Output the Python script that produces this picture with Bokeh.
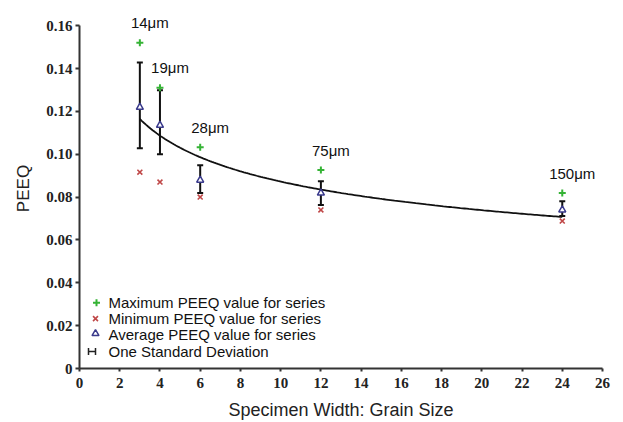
import numpy as np
from bokeh.plotting import figure
from bokeh.models import (Range1d, FixedTicker, Whisker, TeeHead, ColumnDataSource)
from bokeh.core.properties import value
from bokeh.embed import file_html
from bokeh.resources import INLINE

# ---- data ----
widths = [3, 4, 6, 12, 24]                      # specimen width in grains
grain_labels = ["14μm", "19μm", "28μm", "75μm", "150μm"]
peeq_max = [0.152, 0.131, 0.1033, 0.0926, 0.0819]
peeq_min = [0.0916, 0.087, 0.080, 0.074, 0.0688]
peeq_avg = [0.1219, 0.1135, 0.0879, 0.0819, 0.0740]
sd_upper = [0.1428, 0.1298, 0.0949, 0.0874, 0.0781]
sd_lower = [0.1028, 0.1000, 0.0819, 0.0763, 0.0712]

x_ticks = list(range(0, 27, 2))
y_ticks = [0, 0.02, 0.04, 0.06, 0.08, 0.10, 0.12, 0.14, 0.16]
y_tick_labels = ["0", "0.02", "0.04", "0.06", "0.08", "0.10", "0.12", "0.14", "0.16"]

legend_labels = ["Maximum PEEQ value for series",
                 "Minimum PEEQ value for series",
                 "Average PEEQ value for series",
                 "One Standard Deviation"]

# ---- styling ----
GREEN = "#35b335"
RED = "#c04848"
NAVY = "#3a3a8c"
SANS = "Liberation Sans"
SERIF = "Liberation Serif"

FW, FH = 523, 361   # frame size in px

p = figure(width=623, height=422, output_backend="svg", toolbar_location=None,
           x_range=Range1d(0, 26), y_range=Range1d(0, 0.168),
           min_border_left=79, min_border_right=21, min_border_top=8,
           min_border_bottom=53)
p.extra_x_ranges = {"px": Range1d(0, FW)}
p.extra_y_ranges = {"px": Range1d(0, FH)}
p.outline_line_color = None
p.xgrid.visible = False
p.ygrid.visible = False
p.background_fill_color = "white"
p.border_fill_color = "white"

# axes
for ax in (p.xaxis[0], p.yaxis[0]):
    ax.axis_line_width = 2
    ax.axis_line_color = "#333333"
    ax.major_tick_line_color = "#333333"
    ax.major_tick_line_width = 2
    ax.minor_tick_line_color = None
    ax.major_label_text_font = SERIF
    ax.major_label_text_font_style = "bold"
    ax.major_label_text_font_size = "15px"
    ax.major_label_text_color = "#222222"
    ax.axis_label_text_font = SANS
    ax.axis_label_text_font_style = "normal"
    ax.axis_label_text_color = "#222222"

xa = p.xaxis[0]
xa.ticker = FixedTicker(ticks=x_ticks)
xa.bounds = (0, 26)
xa.major_tick_in = 0
xa.major_tick_out = 3
xa.major_label_standoff = 6
xa.axis_label = "Specimen Width: Grain Size"
xa.axis_label_text_font_size = "18px"
xa.axis_label_standoff = 9

ya = p.yaxis[0]
ya.ticker = FixedTicker(ticks=y_ticks)
ya.major_label_overrides = {t: l for t, l in zip(y_ticks, y_tick_labels)}
ya.bounds = (0, 0.16)
ya.major_tick_in = 0
ya.major_tick_out = 4
ya.major_label_standoff = 3
ya.axis_label = "PEEQ"
ya.axis_label_text_font_size = "17px"
ya.axis_label_standoff = 10

# trend line: power-law fit to the averages
b, ln_a = np.polyfit(np.log(widths), np.log(peeq_avg), 1)
xs = np.linspace(min(widths), max(widths), 200)
p.line(xs, np.exp(ln_a) * xs ** b, line_color="#111111", line_width=1.8)

src = ColumnDataSource(dict(x=widths, mx=peeq_max, mn=peeq_min, avg=peeq_avg,
                            up=sd_upper, lo=sd_lower, lab=grain_labels))

# error bars
p.add_layout(Whisker(source=src, base="x", upper="up", lower="lo",
                     line_color="#111111", line_width=2,
                     upper_head=TeeHead(size=6, line_width=2, line_color="#111111"),
                     lower_head=TeeHead(size=6, line_width=2, line_color="#111111")))

p.scatter("x", "mx", source=src, marker="cross", size=7, line_color=GREEN, line_width=2)
p.scatter("x", "mn", source=src, marker="x", size=7, line_color=RED, line_width=1.6)
p.scatter("x", "avg", source=src, marker="triangle", size=7, fill_color="white",
          line_color=NAVY, line_width=1.5)

# grain size labels
p.text("x", "mx", text="lab", source=src, x_offset=10, y_offset=-20,
       text_align="center", text_baseline="middle",
       text_font=value(SANS), text_font_size="15px", text_color="#111111")

# ---- legend (drawn in frame pixel coordinates) ----
leg_icon_x = 17
leg_text_x = 29
leg_rows = [66, 50, 34, 17]
p.scatter([leg_icon_x], [leg_rows[0]], x_range_name="px", y_range_name="px",
          marker="cross", size=7, line_color=GREEN, line_width=2)
p.scatter([leg_icon_x - 1], [leg_rows[1]], x_range_name="px", y_range_name="px",
          marker="x", size=7, line_color=RED, line_width=1.6)
p.scatter([leg_icon_x - 1], [leg_rows[2] + 1], x_range_name="px", y_range_name="px",
          marker="triangle", size=7, fill_color="white", line_color=NAVY, line_width=1.5)
hsrc = ColumnDataSource(dict(b=[leg_rows[3]], lo=[leg_icon_x - 8], up=[leg_icon_x - 1]))
p.add_layout(Whisker(source=hsrc, base="b", lower="lo", upper="up", dimension="width",
                     x_range_name="px", y_range_name="px",
                     line_color="#222222", line_width=1.5,
                     upper_head=TeeHead(size=7, line_width=1.5, line_color="#222222"),
                     lower_head=TeeHead(size=7, line_width=1.5, line_color="#222222")))
p.text([leg_text_x] * 4, leg_rows, text=legend_labels, x_range_name="px", y_range_name="px",
       text_align="left", text_baseline="middle",
       text_font=value(SANS), text_font_size="15px", text_color="#111111")

open("out.html", "w").write(file_html(p, INLINE))
